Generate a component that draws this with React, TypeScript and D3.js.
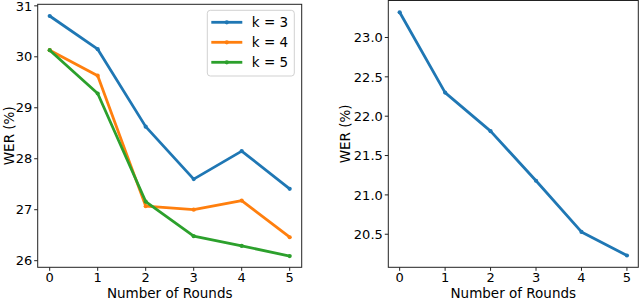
import * as React from 'react'
import * as d3 from 'd3'

const width = 640
const height = 299
const font = 'DejaVu Sans, sans-serif'
const colors = ['#1f77b4', '#ff7f0e', '#2ca02c']

const rounds = [0, 1, 2, 3, 4, 5]
const seriesNames = ['k = 3', 'k = 4', 'k = 5']
const werK3 = [30.8, 30.15, 28.63, 27.6, 28.15, 27.41]
const werK4 = [30.13, 29.63, 27.07, 27.0, 27.18, 26.46]
const werK5 = [30.13, 29.28, 27.16, 26.48, 26.29, 26.09]
const werSingle = [23.32, 22.3, 21.81, 21.18, 20.53, 20.23]
const leftTicks = [26, 27, 28, 29, 30, 31]
const rightTicks = [20.5, 21.0, 21.5, 22.0, 22.5, 23.0]

type Panel = {
  box: { left: number; right: number; top: number; bottom: number }
  yDomain: [number, number]
  yTicks: number[]
  fmt: (v: number) => string
  series: number[][]
  yLabelX: number
}

const panels: Panel[] = [
  {
    box: { left: 37.7, right: 301.7, top: 4.3, bottom: 267.3 },
    yDomain: [25.87, 31.03],
    yTicks: leftTicks,
    fmt: d3.format('d'),
    series: [werK3, werK4, werK5],
    yLabelX: 9.5,
  },
  {
    box: { left: 388.3, right: 638.3, top: 0.5, bottom: 267.3 },
    yDomain: [20.08, 23.47],
    yTicks: rightTicks,
    fmt: d3.format('.1f'),
    series: [werSingle],
    yLabelX: 345,
  },
]

const Chart = ({ p, legend }: { p: Panel; legend?: boolean }) => {
  const { box } = p
  const x = d3.scaleLinear().domain([-0.25, 5.25]).range([box.left, box.right])
  const y = d3.scaleLinear().domain(p.yDomain).range([box.bottom, box.top])
  const line = d3
    .line<number>()
    .x((_, i) => x(rounds[i]))
    .y(d => y(d))

  return (
    <g fontFamily={font} fill="#000">
      {p.series.map((s, i) => (
        <g key={i}>
          <path d={line(s) || ''} fill="none" stroke={colors[i]} strokeWidth={2.8} strokeLinejoin="round" />
          {s.map((v, j) => (
            <circle key={j} cx={x(rounds[j])} cy={y(v)} r={2.1} fill={colors[i]} />
          ))}
        </g>
      ))}
      <rect
        x={box.left}
        y={box.top}
        width={box.right - box.left}
        height={box.bottom - box.top}
        fill="none"
        stroke="#222"
        strokeWidth={1}
      />
      {rounds.map(r => (
        <g key={r} transform={`translate(${x(r)},${box.bottom})`}>
          <line y2={3.5} stroke="#222" strokeWidth={1} />
          <text y={15} textAnchor="middle" fontSize={13}>
            {r}
          </text>
        </g>
      ))}
      {p.yTicks.map(t => (
        <g key={t} transform={`translate(${box.left},${y(t)})`}>
          <line x2={-3.5} stroke="#222" strokeWidth={1} />
          <text x={-5.5} dy="0.36em" textAnchor="end" fontSize={13}>
            {p.fmt(t)}
          </text>
        </g>
      ))}
      <text
        x={(box.left + box.right) / 2}
        y={297.5}
        textAnchor="middle"
        fontSize={13.5}
      >
        Number of Rounds
      </text>
      <text
        transform={`translate(${p.yLabelX},${(box.top + box.bottom) / 2}) rotate(-90)`}
        dy="0.35em"
        textAnchor="middle"
        fontSize={13.5}
      >
        WER (%)
      </text>
      {legend && (
        <g transform="translate(207.3,10.3)">
          <rect width={87} height={65.7} rx={3} fill="#fff" fillOpacity={0.8} stroke="#ccc" strokeWidth={0.9} />
          {seriesNames.map((n, i) => (
            <g key={n} transform={`translate(0,${12 + i * 20})`}>
              <line x1={4} x2={35} stroke={colors[i]} strokeWidth={2.8} />
              <circle cx={19.5} r={2.1} fill={colors[i]} />
              <text x={44.5} dy="0.36em" fontSize={13.5}>
                {n}
              </text>
            </g>
          ))}
        </g>
      )}
    </g>
  )
}

export default function App() {
  return (
    <svg
      width={width}
      height={height}
      style={{ position: 'absolute', left: 0, top: 0, background: '#fff' }}
    >
      <Chart p={panels[0]} legend />
      <Chart p={panels[1]} />
    </svg>
  )
}
